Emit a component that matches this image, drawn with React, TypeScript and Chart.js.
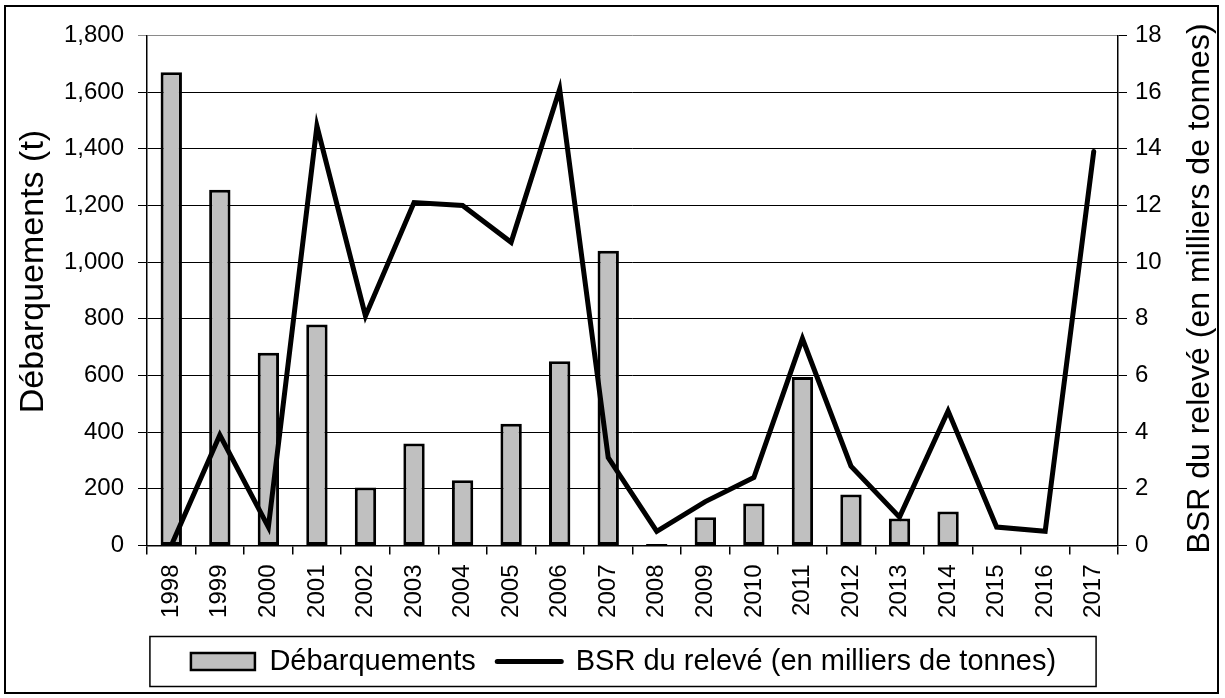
import React, { useEffect, useRef } from "react";
import { Chart, registerables } from "chart.js";

Chart.register(...registerables);

const years = ["1998", "1999", "2000", "2001", "2002", "2003", "2004", "2005", "2006", "2007", "2008", "2009", "2010", "2011", "2012", "2013", "2014", "2015", "2016", "2017"];
const landings = [1670, 1255, 680, 780, 205, 360, 230, 430, 650, 1040, 5, 100, 148, 595, 180, 95, 120, null, null, null];
const ssb = [0, 3.9, 0.65, 14.8, 8.1, 12.1, 12.0, 10.7, 16.1, 3.1, 0.5, 1.55, 2.4, 7.3, 2.8, 1.0, 4.75, 0.65, 0.5, 13.9];
const leftTickValues = [0, 200, 400, 600, 800, 1000, 1200, 1400, 1600, 1800];
const rightTickValues = [0, 2, 4, 6, 8, 10, 12, 14, 16, 18];
const leftAxisTitle = "Débarquements (t)";
const rightAxisTitle = "BSR du relevé (en milliers de tonnes)";
const barLabel = "Débarquements";
const lineLabel = "BSR du relevé (en milliers de tonnes)";

const FONT = '"Liberation Sans", Arial, Helvetica, sans-serif';

const decorPlugin = {
  id: "decor",
  afterDraw(chart: any) {
    const { ctx, chartArea } = chart;
    const y = chart.scales.y;
    const y1 = chart.scales.y1;
    ctx.save();
    ctx.fillStyle = "#000";
    ctx.textAlign = "center";
    ctx.textBaseline = "middle";
    // left title
    ctx.save();
    ctx.font = `34px ${FONT}`;
    ctx.translate(y.left + 5, chartArea.top + (chartArea.bottom - chartArea.top) * 0.463);
    ctx.rotate(-Math.PI / 2);
    ctx.fillText(leftAxisTitle, 0, 0);
    ctx.restore();
    // right title
    ctx.save();
    ctx.font = `32px ${FONT}`;
    ctx.translate(y1.right - 18, (chartArea.top + chartArea.bottom) / 2 - 2);
    ctx.rotate(-Math.PI / 2);
    ctx.fillText(rightAxisTitle, 0, 0);
    ctx.restore();
    // legend frame
    const hb = chart.legend && chart.legend.legendHitBoxes;
    if (hb && hb.length) {
      const left = Math.min(...hb.map((h: any) => h.left)) - 41;
      const right = Math.max(...hb.map((h: any) => h.left + h.width)) + 40;
      const cy = hb[0].top + hb[0].height / 2;
      ctx.strokeStyle = "#000";
      ctx.lineWidth = 1.5;
      ctx.strokeRect(left, cy - 25, right - left, 50);
    }
    ctx.restore();
  },
};

export default function App() {
  const ref = useRef<HTMLCanvasElement | null>(null);

  useEffect(() => {
    if (!ref.current) return;
    const chart = new Chart(ref.current, {
      type: "bar",
      data: {
        labels: years,
        datasets: [
          {
            type: "bar",
            label: barLabel,
            data: landings,
            yAxisID: "y",
            backgroundColor: "#c0c0c0",
            borderColor: "#000",
            borderWidth: 3,
            borderSkipped: false,
            barPercentage: 0.44,
            categoryPercentage: 1,
            order: 2,
          } as any,
          {
            type: "line",
            label: lineLabel,
            data: ssb,
            yAxisID: "y1",
            borderColor: "#000",
            backgroundColor: "#000",
            borderWidth: 5,
            borderCapStyle: "round",
            borderJoinStyle: "miter",
            pointRadius: 0,
            pointHoverRadius: 0,
            tension: 0,
            order: 1,
          } as any,
        ],
      },
      options: {
        responsive: false,
        devicePixelRatio: 1,
        animation: false,
        layout: { padding: { top: 26, left: 22, right: 0, bottom: 5 } },
        plugins: {
          tooltip: { enabled: false },
          legend: {
            position: "bottom",
            maxHeight: 69,
            labels: {
              usePointStyle: true,
              pointStyleWidth: 64,
              boxHeight: 17,
              padding: 21.5,
              color: "#000",
              font: { size: 29, family: FONT },
              sort: (a: any, b: any) => a.datasetIndex - b.datasetIndex,
              generateLabels: (c: any) => {
                const items = (Chart.defaults.plugins.legend.labels as any).generateLabels(c);
                return items.map((it: any) => ({
                  ...it,
                  pointStyle: it.datasetIndex === 0 ? "rect" : "line",
                  lineWidth: it.datasetIndex === 0 ? 2.5 : 5,
                  fillStyle: it.datasetIndex === 0 ? "#c0c0c0" : "#000",
                  strokeStyle: "#000",
                  lineCap: "round",
                }));
              },
            },
          } as any,
        },
        scales: {
          x: {
            type: "category",
            offset: true,
            grid: { display: true, drawOnChartArea: false, offset: true, tickLength: 9, color: "#000", lineWidth: 1.5 },
            border: { display: true, color: "#000", width: 1.5 },
            ticks: { autoSkip: false, maxRotation: 90, minRotation: 90, padding: 10, color: "#000", font: { size: 24, family: FONT } },
            afterFit: (s: any) => { s.height = 80; },
          } as any,
          y: {
            position: "left",
            min: 0,
            max: 1800,
            afterBuildTicks: (s: any) => { s.ticks = leftTickValues.map((v) => ({ value: v })); },
            ticks: {
              padding: 14,
              color: "#000",
              font: { size: 24, family: FONT },
              callback: (v: any) => Number(v).toLocaleString("en-US"),
            },
            grid: {
              color: (c: any) => (c.tick && c.tick.value === 1800 ? "#8a8a8a" : "#000"),
              lineWidth: 1,
              tickLength: 9,
            },
            border: { display: true, color: "#000", width: 1.5 },
            afterFit: (s: any) => { s.width = 118; },
          } as any,
          y1: {
            position: "right",
            min: 0,
            max: 18,
            afterBuildTicks: (s: any) => { s.ticks = rightTickValues.map((v) => ({ value: v })); },
            ticks: { padding: 8, color: "#000", font: { size: 24, family: FONT } },
            grid: { drawOnChartArea: false, color: "#000", tickLength: 9, lineWidth: 1 },
            border: { display: true, color: "#000", width: 1.5 },
            afterFit: (s: any) => { s.width = 100; },
          } as any,
        },
      },
      plugins: [decorPlugin],
    });
    return () => chart.destroy();
  }, []);

  return (
    <div>
      <div
        style={{
          position: "fixed",
          left: 4,
          top: 5,
          width: 1215,
          height: 689,
          border: "2px solid #000",
          boxSizing: "border-box",
          background: "#fff",
        }}
      />
      <canvas
        ref={ref}
        width={1211}
        height={684}
        style={{ position: "fixed", left: 7, top: 7, width: 1211, height: 684 }}
      />
    </div>
  );
}
